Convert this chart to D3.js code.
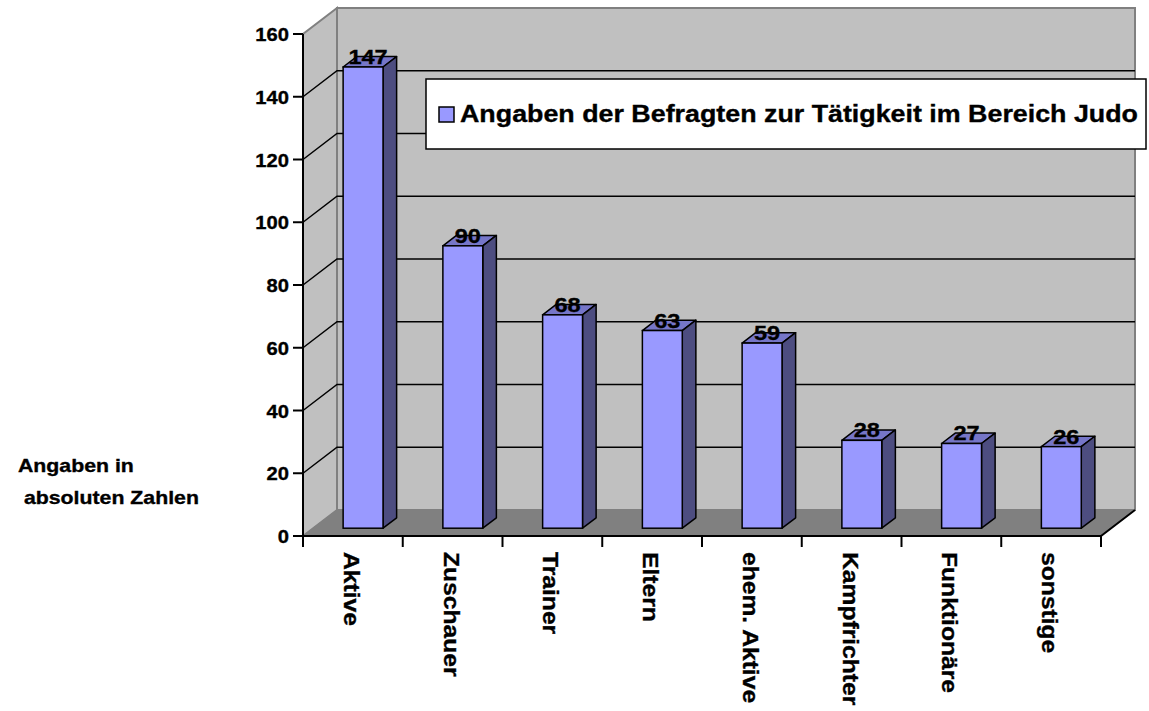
<!DOCTYPE html>
<html>
<head>
<meta charset="utf-8">
<script src="https://cdn.jsdelivr.net/npm/d3@7"></script>
<style>
  body { margin: 0; background: #fff; }
  svg text { font-family: "Liberation Sans", Arial, sans-serif; font-weight: bold; fill: #000; stroke: #000; stroke-width: 0.35px; }
</style>
</head>
<body>
<svg width="1149" height="711"></svg>
<script>
'use strict';

var categories = ['Aktive', 'Zuschauer', 'Trainer', 'Eltern', 'ehem. Aktive', 'Kampfrichter', 'Funktionäre', 'sonstige'];
var values = [147, 90, 68, 63, 59, 28, 27, 26];
var yTicks = [0, 20, 40, 60, 80, 100, 120, 140, 160];
var seriesName = 'Angaben der Befragten zur Tätigkeit im Bereich Judo';
var axisTitle = ['Angaben in', '\u00a0absoluten Zahlen'];

(() => {
  var svg = d3.select('svg');
  var x = d3.scaleBand().domain(categories).range([303, 1101]);
  var y = d3.scaleLinear().domain([0, 160]).range([536, 34]);
  // depth of the 3d box
  var DX = 34, DY = -26;
  var off = t => [DX * t, DY * t];
  var x0 = x.range()[0], x1 = x.range()[1];
  var y0 = y(0), yTop = y(160);

  var data = categories.map((c, i) => ({ name: c, value: values[i] }));

  // walls and floor
  svg.append('rect')
    .attr('x', x0 + DX).attr('y', yTop + DY)
    .attr('width', x1 - x0).attr('height', y0 - yTop)
    .attr('fill', '#c0c0c0').attr('stroke', '#808080').attr('stroke-width', 2);
  svg.append('polygon')
    .attr('points', [[x0, y0], [x0 + DX, y0 + DY], [x0 + DX, yTop + DY], [x0, yTop]].join(' '))
    .attr('fill', '#c0c0c0').attr('stroke', '#808080').attr('stroke-width', 2);
  svg.append('polygon')
    .attr('points', [[x0, y0], [x1, y0], [x1 + DX, y0 + DY], [x0 + DX, y0 + DY]].join(' '))
    .attr('fill', '#808080').attr('stroke', '#808080').attr('stroke-width', 1);

  // gridlines
  var grid = yTicks.filter(t => t > 0 && t < 160);
  svg.append('g').selectAll('path').data(grid).enter().append('path')
    .attr('d', t => `M${x0},${y(t)}L${x0 + DX},${y(t) + DY}L${x1 + DX},${y(t) + DY}`)
    .attr('fill', 'none').attr('stroke', '#000').attr('stroke-width', 1.5);

  // axes
  svg.append('path')
    .attr('d', `M${x0},${yTop}L${x0},${y0}L${x1},${y0}L${x1 + DX},${y0 + DY}`)
    .attr('fill', 'none').attr('stroke', '#000').attr('stroke-width', 2);
  svg.append('g').selectAll('line').data(yTicks).enter().append('line')
    .attr('x1', x0 - 10).attr('x2', x0).attr('y1', d => y(d)).attr('y2', d => y(d))
    .attr('stroke', '#000').attr('stroke-width', 2);
  var bounds = categories.map(c => x(c)).concat([x1]);
  svg.append('g').selectAll('line').data(bounds).enter().append('line')
    .attr('x1', d => d).attr('x2', d => d).attr('y1', y0).attr('y2', y0 + 11)
    .attr('stroke', '#000').attr('stroke-width', 2);

  // bars
  var w = x.bandwidth() * 0.4;
  var f = off(0.3), b = off(0.7);
  var bars = svg.append('g').selectAll('g').data(data).enter().append('g');
  var fx = d => x(d.name) + x.bandwidth() / 2 - w / 2 + f[0];
  var fyTop = d => y(d.value) + f[1];
  var fyBot = y0 + f[1];
  var sx = b[0] - f[0], sy = b[1] - f[1];
  bars.append('polygon')
    .attr('points', d => [[fx(d), fyTop(d)], [fx(d) + w, fyTop(d)], [fx(d) + w + sx, fyTop(d) + sy], [fx(d) + sx, fyTop(d) + sy]].join(' '))
    .attr('fill', '#7676c8').attr('stroke', '#000').attr('stroke-width', 1.5).attr('stroke-linejoin', 'round');
  bars.append('polygon')
    .attr('points', d => [[fx(d) + w, fyTop(d)], [fx(d) + w + sx, fyTop(d) + sy], [fx(d) + w + sx, fyBot + sy], [fx(d) + w, fyBot]].join(' '))
    .attr('fill', '#4d4d80').attr('stroke', '#000').attr('stroke-width', 1.5).attr('stroke-linejoin', 'round');
  bars.append('rect')
    .attr('x', fx).attr('y', fyTop)
    .attr('width', w).attr('height', d => fyBot - fyTop(d))
    .attr('fill', '#9999ff').attr('stroke', '#000').attr('stroke-width', 1.5);

  var texts = [];
  // value labels
  bars.append('text')
    .attr('x', d => fx(d) + w / 2 + 5).attr('y', d => fyTop(d) - 3)
    .attr('text-anchor', 'middle').style('font-size', '21px')
    .text(d => d.value)
    .each(function () { texts.push(this); });

  // y tick labels
  svg.append('g').selectAll('text').data(yTicks).enter().append('text')
    .attr('x', x0 - 14).attr('y', d => y(d) + 7)
    .attr('text-anchor', 'end').style('font-size', '18px')
    .text(d => d)
    .each(function () { texts.push(this); });

  // category labels
  svg.append('g').selectAll('text').data(categories).enter().append('text')
    .attr('transform', c => `translate(${x(c) + x.bandwidth() / 2 - 9},552) rotate(90)`)
    .style('font-size', '22px')
    .text(c => c)
    .each(function () { texts.push(this); });

  // axis title
  svg.append('g').selectAll('text').data(axisTitle).enter().append('text')
    .attr('x', 18).attr('y', (d, i) => 472 + i * 32)
    .style('font-size', '19px')
    .text(d => d)
    .each(function () { texts.push(this); });

  texts.forEach(n => {
    var len = n.getComputedTextLength();
    d3.select(n).attr('textLength', len * 1.12).attr('lengthAdjust', 'spacingAndGlyphs');
  });

  // legend
  var lg = svg.append('g');
  lg.append('rect').attr('x', 426).attr('y', 79).attr('width', 720).attr('height', 70)
    .attr('fill', '#fff').attr('stroke', '#000').attr('stroke-width', 1.5);
  lg.append('rect').attr('x', 439).attr('y', 107).attr('width', 15).attr('height', 15)
    .attr('fill', '#9999ff').attr('stroke', '#000').attr('stroke-width', 1.5);
  lg.append('text').attr('x', 460).attr('y', 122)
    .style('font-size', '24px')
    .attr('textLength', 678).attr('lengthAdjust', 'spacingAndGlyphs')
    .text(seriesName);
})();
</script>
</body>
</html>
